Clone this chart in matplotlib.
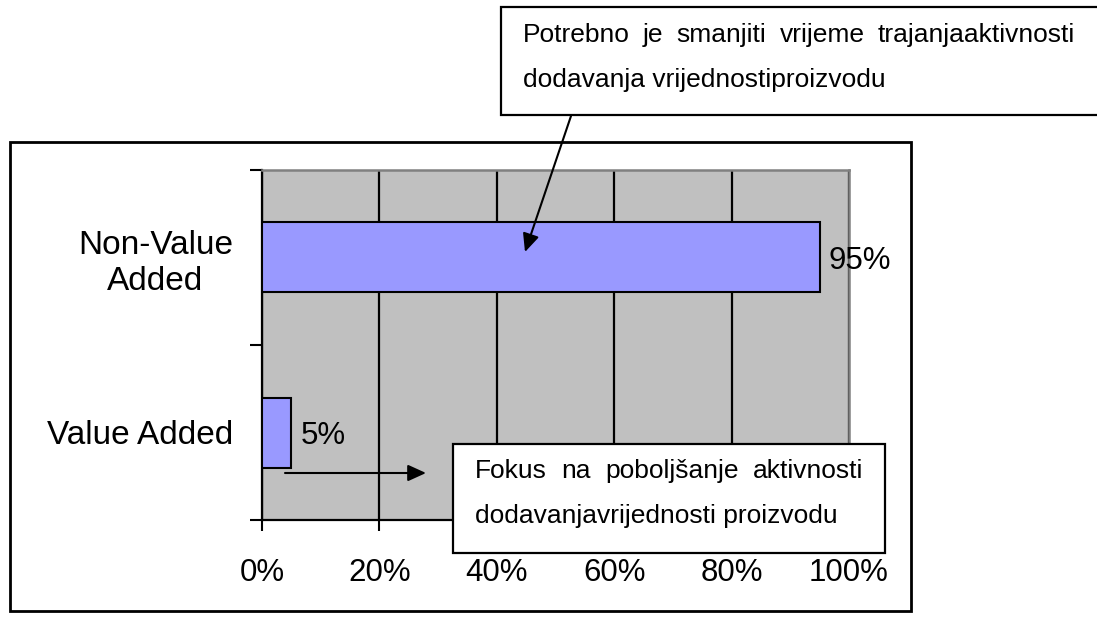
import matplotlib
matplotlib.use('Agg')
import matplotlib.pyplot as plt
from matplotlib.patches import Rectangle, FancyArrowPatch

# ---- data ----
categories = ['Value Added', 'Non-Value\nAdded']
values = [5, 95]
value_labels = ['5%', '95%']
xticks = [0, 20, 40, 60, 80, 100]
xtick_labels = ['0%', '20%', '40%', '60%', '80%', '100%']
note_top = ['Potrebno je smanjiti vrijeme trajanjaaktivnosti',
            'dodavanja vrijednostiproizvodu']
note_bottom = ['Fokus na poboljšanje aktivnosti',
               'dodavanjavrijednosti proizvodu']

W, H = 1097, 624
plt.rcParams['font.family'] = ['Liberation Sans', 'DejaVu Sans']
fig = plt.figure(figsize=(W / 100, H / 100), dpi=100)


def fx(x):
    return x / W


def fy(y):
    return 1 - y / H


ax = fig.add_axes([fx(262), fy(520), fx(849) - fx(262), fy(170) - fy(520)])
ax.set_facecolor('#C0C0C0')
ax.barh(range(len(categories)), values, height=0.4, color='#9999FF',
        edgecolor='black', linewidth=1.5, zorder=3)
ax.set_xlim(0, 100)
ax.set_ylim(-0.5, 1.5)
ax.set_xticks(xticks)
ax.set_xticklabels(xtick_labels, fontsize=22.5)
ax.tick_params(axis='x', length=8, width=1.5, pad=19.5, direction='out')
ax.xaxis.grid(True, color='black', linewidth=1.6)
ax.set_axisbelow(True)

ax.set_yticks([-0.5, 0.5, 1.5])
ax.set_yticklabels([])
ax.set_yticks(range(len(categories)), minor=True)
ax.set_yticklabels(categories, minor=True, fontsize=24, multialignment='center')
ax.tick_params(axis='y', which='major', length=9, width=1.5, direction='out')
ax.tick_params(axis='y', which='minor', length=0, pad=21)

for s in ['left', 'bottom']:
    ax.spines[s].set_color('black')
    ax.spines[s].set_linewidth(1.6)
for s in ['top', 'right']:
    ax.spines[s].set_color('#808080')
    ax.spines[s].set_linewidth(1.8)

for i, (v, lab) in enumerate(zip(values, value_labels)):
    ax.annotate(lab, (v, i), xytext=(6.5, -2.5), textcoords='offset points',
                va='center', ha='left', fontsize=22.5, annotation_clip=False)

# outer frame
fig.add_artist(Rectangle((fx(10), fy(611)), fx(911) - fx(10), fy(142) - fy(611),
                         transform=fig.transFigure, fill=False, ec='black',
                         lw=2, zorder=1))
# note boxes
fig.add_artist(Rectangle((fx(501), fy(115)), fx(1110) - fx(501), fy(7) - fy(115),
                         transform=fig.transFigure, fc='white', ec='black',
                         lw=1.6, zorder=2))
fig.add_artist(Rectangle((fx(453), fy(553)), fx(885) - fx(453), fy(444) - fy(553),
                         transform=fig.transFigure, fc='white', ec='black',
                         lw=1.6, zorder=2))

# arrows
fig.add_artist(FancyArrowPatch(posA=(fx(571), fy(116)), posB=(fx(525), fy(252)),
                               transform=fig.transFigure,
                               arrowstyle='-|>,head_length=1.1,head_width=0.5',
                               mutation_scale=10, color='black', lw=1.5,
                               shrinkA=0, shrinkB=0, zorder=2.5))
fig.add_artist(FancyArrowPatch(posA=(fx(285), fy(473)), posB=(fx(426), fy(473)),
                               transform=fig.transFigure,
                               arrowstyle='-|>,head_length=1.1,head_width=0.5',
                               mutation_scale=10, color='black', lw=1.5,
                               shrinkA=0, shrinkB=0, zorder=2.5))

NOTE_SIZE = 19


def justified_line(text, x0, x1, y, size):
    words = text.split()
    texts = [fig.text(0, 0, w, fontsize=size, va='baseline', zorder=3) for w in words]
    fig.canvas.draw()
    r = fig.canvas.get_renderer()
    widths = [t.get_window_extent(r).width for t in texts]
    gap = (x1 - x0 - sum(widths)) / (len(words) - 1)
    x = x0
    for t, w in zip(texts, widths):
        t.set_position((fx(x), fy(y)))
        x += w + gap


justified_line(note_top[0], 523, 1075, 42, NOTE_SIZE)
fig.text(fx(523), fy(87), note_top[1], fontsize=NOTE_SIZE, va='baseline', zorder=3)
justified_line(note_bottom[0], 475, 863, 478, NOTE_SIZE)
fig.text(fx(475), fy(523), note_bottom[1], fontsize=NOTE_SIZE, va='baseline', zorder=3)

fig.savefig('out.png', dpi=100)
